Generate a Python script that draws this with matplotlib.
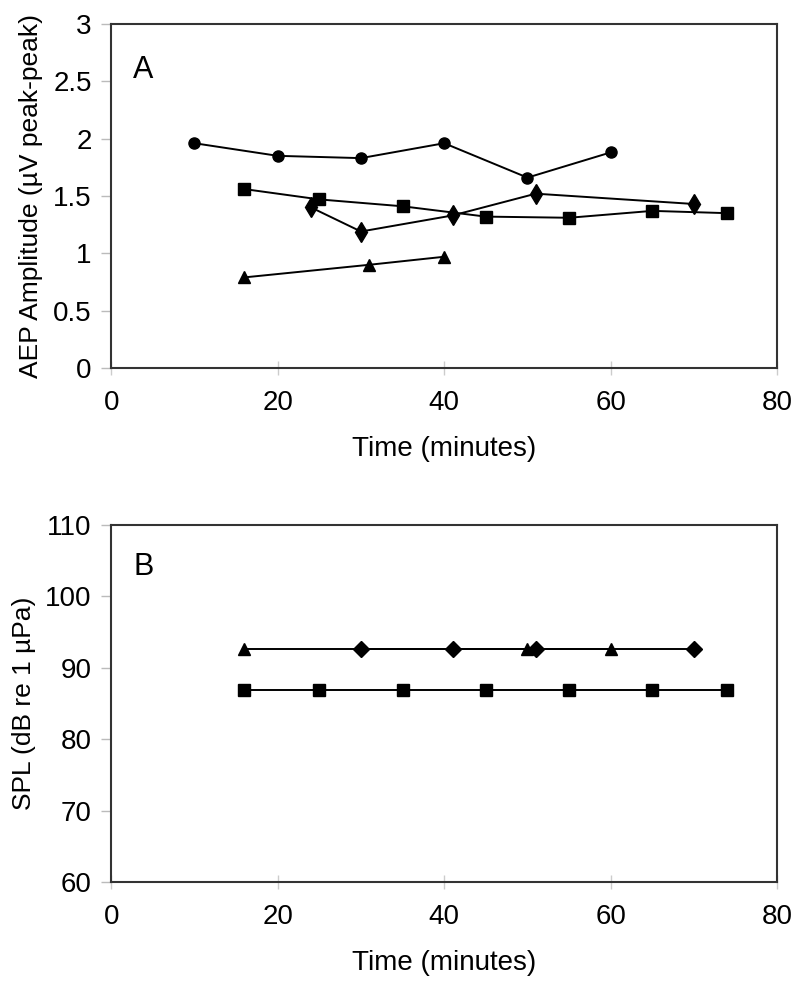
import matplotlib
matplotlib.use("Agg")
import matplotlib.pyplot as plt

plt.rcParams['font.family'] = ['Liberation Sans', 'DejaVu Sans']

# panel A - AEP amplitude
circ_t = [10, 20, 30, 40, 50, 60]
circ_amp = [1.96, 1.85, 1.83, 1.96, 1.66, 1.88]
sq_t = [16, 25, 35, 45, 55, 65, 74]
sq_amp = [1.56, 1.47, 1.41, 1.32, 1.31, 1.37, 1.35]
dia_t = [24, 30, 41, 51, 70]
dia_amp = [1.40, 1.19, 1.33, 1.52, 1.43]
tri_t = [16, 31, 40]
tri_amp = [0.79, 0.90, 0.97]

# panel B - SPL
tri_b_t = [16, 50, 60]
tri_b_spl = [92.6, 92.6, 92.6]
dia_b_t = [30, 41, 51, 70]
dia_b_spl = [92.6, 92.6, 92.6, 92.6]
sq_b_t = [16, 25, 35, 45, 55, 65, 74]
sq_b_spl = [86.9, 86.9, 86.9, 86.9, 86.9, 86.9, 86.9]

fig = plt.figure(figsize=(8, 9.9), dpi=100)
axA = fig.add_axes([0.139, 0.6283, 0.8325, 0.3475])
axB = fig.add_axes([0.139, 0.1091, 0.8325, 0.3606])

lk = dict(color='black', lw=1.4, markersize=8)

axA.plot(circ_t, circ_amp, marker='o', **lk)
axA.plot(sq_t, sq_amp, marker='s', **lk)
axA.plot(dia_t, dia_amp, marker='d', **dict(lk, markersize=10.5))
axA.plot(tri_t, tri_amp, marker='^', **lk)

axB.plot(tri_b_t, tri_b_spl, marker='^', **lk)
axB.plot(dia_b_t, dia_b_spl, marker='D', **dict(lk, markersize=8.5))
axB.plot(sq_b_t, sq_b_spl, marker='s', **lk)

def style(ax, ylim, yticks, ylabel, letter, ly):
	ax.set_xlim(0, 80)
	ax.set_ylim(*ylim)
	ax.set_xticks([0, 20, 40, 60, 80])
	ax.set_yticks(yticks)
	for s in ax.spines.values():
		s.set_color('#333333')
		s.set_linewidth(1.5)
	ax.tick_params(axis='y', direction='out', length=7, width=1, color='#bbbbbb', labelsize=20, pad=7)
	ax.tick_params(axis='x', direction='inout', length=10, width=1, color='#cccccc', labelsize=20, pad=11)
	ax.set_xlabel('Time (minutes)', fontsize=20, labelpad=14)
	ax.set_ylabel(ylabel, fontsize=19, labelpad=7)
	ax.text(0.033, ly, letter, transform=ax.transAxes, fontsize=22, va='center', ha='left')

style(axA, (0, 3), [0, 0.5, 1, 1.5, 2, 2.5, 3], 'AEP Amplitude (µV peak-peak)', 'A', 0.866)
axA.set_yticklabels(['0', '0.5', '1', '1.5', '2', '2.5', '3'])
style(axB, (60, 110), [60, 70, 80, 90, 100, 110], 'SPL (dB re 1 µPa)', 'B', 0.882)

fig.savefig('out.png', dpi=100)
